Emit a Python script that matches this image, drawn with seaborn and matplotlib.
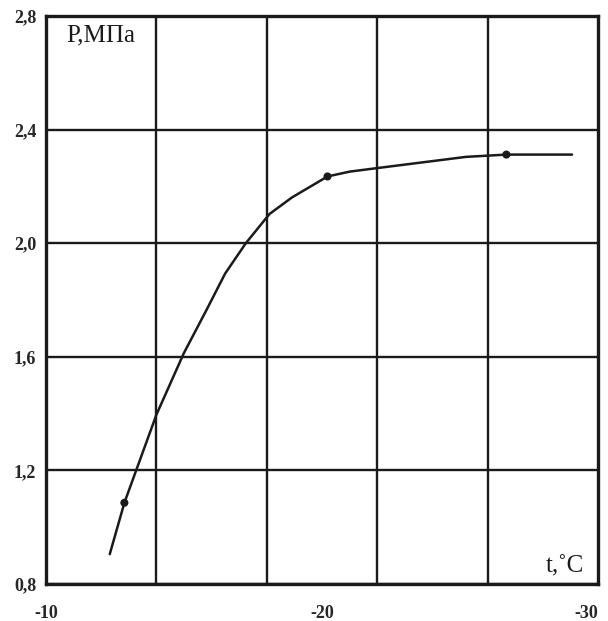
import matplotlib
matplotlib.use("Agg")
import matplotlib.pyplot as plt
import seaborn as sns
import pandas as pd

# curve (temperature, pressure)
t_curve = [-12.31, -12.84, -14.0, -14.99, -15.81, -16.49, -17.24, -18.1, -18.91,
           -20.2, -21.0, -22.04, -25.22, -26.68, -29.06]
p_curve = [0.905, 1.086, 1.396, 1.612, 1.764, 1.893, 2.0, 2.103, 2.161,
           2.235, 2.252, 2.265, 2.304, 2.312, 2.312]
# measured points
t_pts = [-12.84, -20.2, -26.68]
p_pts = [1.086, 2.235, 2.312]

x_ticks = [-10, -20, -30]
x_grid = [-14, -18, -22, -26]
y_ticks = [0.8, 1.2, 1.6, 2.0, 2.4, 2.8]
y_labels = ["0,8", "1,2", "1,6", "2,0", "2,4", "2,8"]

sns.set_style("white")
plt.rcParams["font.family"] = ["Liberation Serif", "DejaVu Serif"]

fig = plt.figure(figsize=(6.08, 6.21), dpi=100)
ax = fig.add_axes([46/608, 1 - 584/621, 552/608, 568/621])

curve = pd.DataFrame({"t": t_curve, "p": p_curve})
pts = pd.DataFrame({"t": t_pts, "p": p_pts})
sns.lineplot(data=curve, x="t", y="p", ax=ax, color="#1a1a1a", linewidth=1.8,
             sort=False, zorder=3)
sns.scatterplot(data=pts, x="t", y="p", ax=ax, color="#1a1a1a", s=34,
                edgecolor="none", zorder=4)

ax.set_xlim(-10, -30)
ax.set_ylim(0.8, 2.8)
ax.set_xticks(x_ticks)
xl = ax.set_xticklabels([str(v) for v in x_ticks], fontweight="bold", fontsize=13)
xl[-1].set_ha("right")
ax.set_xticks(x_grid, minor=True)
ax.set_yticks(y_ticks)
ax.set_yticklabels(y_labels, fontweight="bold", fontsize=13)
ax.grid(False)
ax.grid(True, axis="x", which="minor", color="#1a1a1a", linewidth=1.7)
ax.grid(True, axis="y", which="major", color="#1a1a1a", linewidth=1.7)
ax.tick_params(axis="both", which="both", length=0)
ax.tick_params(axis="x", pad=15)
ax.tick_params(axis="y", pad=7)
ax.set_xlabel("")
ax.set_ylabel("")
for s in ax.spines.values():
    s.set_visible(True)
    s.set_color("#1a1a1a")
    s.set_linewidth(2.4)

ax.text(0.036, 0.985, "P,МПа", transform=ax.transAxes, fontsize=18,
        ha="left", va="top", color="#1a1a1a")
ax.text(0.975, 0.012, "t,˚C", transform=ax.transAxes, fontsize=18,
        ha="right", va="bottom", color="#1a1a1a")

fig.savefig("out.png", dpi=100, facecolor="white")
